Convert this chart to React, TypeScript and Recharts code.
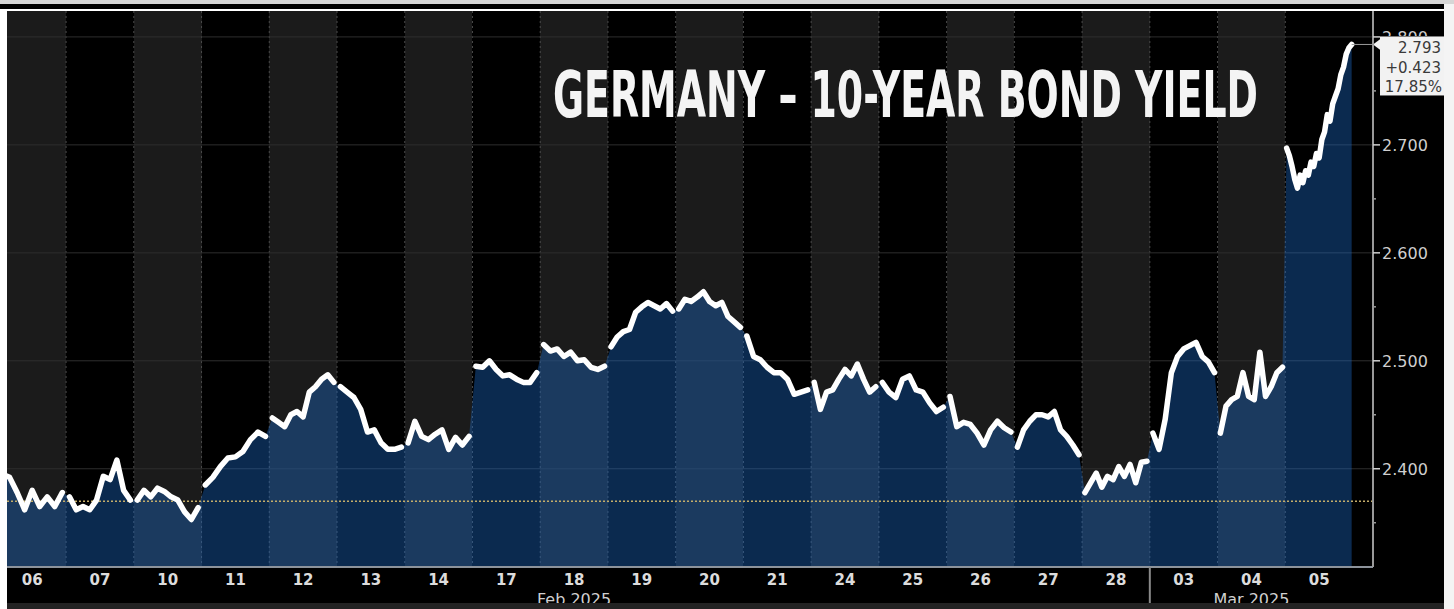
import React from 'react';
import { ComposedChart, Area, Line, XAxis, YAxis, CartesianGrid, ReferenceLine } from 'recharts';

// ---- data ----
const dayLabels = ['06', '07', '10', '11', '12', '13', '14', '17', '18', '19', '20', '21', '24', '25', '26', '27', '28', '03', '04', '05'];
const monthLabelDays = [8, 18]; // day index where month label is centred
const monthLabels = ['Feb 2025', 'Mar 2025'];
const monthStartDay = 17; // first day of March

const d06 = [2.395, 2.392, 2.378, 2.362, 2.38, 2.365, 2.374, 2.365, 2.378];
const d07 = [2.374, 2.362, 2.365, 2.362, 2.371, 2.393, 2.39, 2.408, 2.38, 2.371];
const d10 = [2.371, 2.38, 2.374, 2.382, 2.379, 2.374, 2.371, 2.36, 2.353, 2.364];
const d11 = [2.385, 2.392, 2.402, 2.41, 2.411, 2.416, 2.427, 2.434, 2.43];
const d12 = [2.447, 2.443, 2.439, 2.45, 2.453, 2.448, 2.471, 2.476, 2.483, 2.487, 2.48];
const d13 = [2.476, 2.471, 2.466, 2.455, 2.434, 2.436, 2.424, 2.418, 2.418, 2.42];
const d14 = [2.424, 2.444, 2.43, 2.427, 2.432, 2.436, 2.418, 2.429, 2.422, 2.43];
const d17 = [2.495, 2.494, 2.5, 2.492, 2.486, 2.487, 2.483, 2.48, 2.48, 2.489];
const d18 = [2.515, 2.509, 2.511, 2.504, 2.508, 2.5, 2.501, 2.494, 2.492, 2.495];
const d19 = [2.513, 2.522, 2.527, 2.529, 2.545, 2.55, 2.554, 2.551, 2.548, 2.553, 2.546];
const d20 = [2.548, 2.557, 2.555, 2.559, 2.564, 2.555, 2.551, 2.554, 2.541, 2.536, 2.531];
const d21 = [2.523, 2.504, 2.501, 2.494, 2.489, 2.489, 2.483, 2.469, 2.471, 2.473];
const d24 = [2.48, 2.455, 2.471, 2.473, 2.483, 2.492, 2.486, 2.497, 2.483, 2.471, 2.476];
const d25 = [2.48, 2.471, 2.466, 2.483, 2.486, 2.473, 2.471, 2.461, 2.453, 2.457];
const d26 = [2.467, 2.439, 2.443, 2.441, 2.433, 2.422, 2.436, 2.444, 2.438, 2.434];
const d27 = [2.42, 2.436, 2.444, 2.45, 2.45, 2.448, 2.453, 2.436, 2.43, 2.422, 2.413];
const d28 = [2.378, 2.387, 2.396, 2.383, 2.393, 2.39, 2.402, 2.393, 2.404, 2.387, 2.406, 2.407];
const d03 = [2.433, 2.418, 2.446, 2.489, 2.504, 2.511, 2.514, 2.517, 2.504, 2.499, 2.489];
const d04 = [2.433, 2.458, 2.464, 2.467, 2.489, 2.467, 2.464, 2.508, 2.467, 2.476, 2.489, 2.494];
const d05 = [2.697, 2.69, 2.68, 2.668, 2.66, 2.672, 2.665, 2.676, 2.672, 2.684, 2.68, 2.692, 2.688, 2.705, 2.712, 2.728, 2.722, 2.738, 2.745, 2.752, 2.765, 2.772, 2.784, 2.79, 2.793];

const intraday = [d06, d07, d10, d11, d12, d13, d14, d17, d18, d19, d20, d21, d24, d25, d26, d27, d28, d03, d04, d05];

const yTicks = [2.35, 2.4, 2.45, 2.5, 2.55, 2.6, 2.65, 2.7, 2.75, 2.8];
const majorTicks = [2.4, 2.5, 2.6, 2.7, 2.8];
const hiddenTick = 2.8; // mostly covered by the last-value box
const prevClose = 2.37;
const lastValue = '2.793';
const netChange = '+0.423';
const pctChange = '17.85%';
const title = 'GERMANY – 10-YEAR BOND YIELD';

const X_DOMAIN: [number, number] = [0.128, 20.295];
const Y_DOMAIN: [number, number] = [2.309, 2.824];

// ---- build table ----
type Row = { x: number; v: number | null };
const rows: Row[] = [];
intraday.forEach((vals, d) => {
  if (d > 0) rows.push({ x: d, v: null });
  vals.forEach((v, i) => rows.push({ x: d + (i + 0.5) / vals.length, v }));
});
const lastDay = intraday.length - 1;
const lastX = lastDay + (intraday[lastDay].length - 0.5) / intraday[lastDay].length;
const lastNum = intraday[lastDay][intraday[lastDay].length - 1];

const dayCenters = dayLabels.map((_, i) => i + 0.5);
const dayBounds = dayLabels.slice(1).map((_, i) => i + 1);
const monthTicks = [...monthLabelDays.map((d) => d + 0.5), monthStartDay].sort((a, b) => a - b);

const FONT = 'DejaVu Sans, Verdana, sans-serif';

const DayTick = (props: any) => {
  const { x, y, payload } = props;
  return (
    <text x={x} y={y + 18} textAnchor="middle" fill="#dcdcdc" fontSize={15} fontWeight="bold" fontFamily={FONT}>
      {dayLabels[Math.floor(payload.value)]}
    </text>
  );
};

const MonthTick = (props: any) => {
  const { x, y, payload } = props;
  if (payload.value === monthStartDay) {
    return <line x1={x} x2={x} y1={y - 22} y2={y + 14} stroke="#8a8a8a" strokeWidth={2} />;
  }
  const idx = monthLabelDays.indexOf(payload.value - 0.5);
  return (
    <text x={x} y={y + 16} textAnchor="middle" fill="#cfcfcf" fontSize={16} fontFamily={FONT}>
      {monthLabels[idx]}
    </text>
  );
};

const YTick = (props: any) => {
  const { x, y, payload } = props;
  const major = majorTicks.some((t) => Math.abs(t - payload.value) < 1e-6);
  if (!major) {
    return <line x1={x} x2={x + 3} y1={y} y2={y} stroke="#9a9a9a" strokeWidth={1.5} />;
  }
  const covered = Math.abs(payload.value - hiddenTick) < 1e-6;
  return (
    <g>
      {covered && (
        <defs>
          <clipPath id="topTickClip">
            <rect x={x} y={y - 12} width={80} height={11} />
          </clipPath>
        </defs>
      )}
      <line x1={x} x2={x + 7} y1={y} y2={y} stroke="#cfcfcf" strokeWidth={1.5} />
      <text
        x={x + 9}
        y={y + 6}
        fill="#cfcfcf"
        fontSize={16}
        fontFamily={FONT}
        clipPath={covered ? 'url(#topTickClip)' : undefined}
      >
        {payload.value.toFixed(3)}
      </text>
    </g>
  );
};

const ValueBox = (props: any) => {
  const vb = props.viewBox || {};
  const bx = (vb.x || 0) + (vb.width || 0);
  const by = vb.y || 0;
  return (
    <g>
      <path d={`M${bx},${by} L${bx + 8},${by - 6} L${bx + 8},${by + 6} Z`} fill="#f2f2f2" />
      <rect x={bx + 7} y={by - 8} width={64} height={59} fill="#f2f2f2" />
      <text x={bx + 68} y={by + 9} textAnchor="end" fill="#3a3a3a" fontSize={15} fontFamily={FONT}>{lastValue}</text>
      <text x={bx + 68} y={by + 28.5} textAnchor="end" fill="#3a3a3a" fontSize={15} fontFamily={FONT}>{netChange}</text>
      <text x={bx + 69} y={by + 48} textAnchor="end" fill="#3a3a3a" fontSize={15} fontFamily={FONT}>{pctChange}</text>
    </g>
  );
};

export default function App() {
  return (
    <div style={{ position: 'absolute', left: 0, top: 0, width: 1454, height: 609, background: '#ffffff', overflow: 'hidden' }}>
      {/* black panel behind chart */}
      <div style={{ position: 'absolute', left: 7, top: 11, width: 1437, height: 592, background: '#000' }} />
      <div style={{ position: 'absolute', left: 0, top: 0 }}>
        <ComposedChart width={1454} height={609} data={rows} margin={{ top: 11, right: 10, bottom: 0, left: 7 }}>
          <CartesianGrid
            xAxisId="day"
            horizontal={false}
            vertical={true}
            verticalValues={dayBounds}
            verticalFill={['#1b1b1b', '#000000']}
            stroke="#4a4a4a"
            strokeDasharray="2 3"
          />
          <CartesianGrid
            xAxisId="day"
            vertical={false}
            horizontal={true}
            horizontalValues={majorTicks}
            stroke="#2e2e2e"
          />
          <XAxis
            xAxisId="day"
            dataKey="x"
            type="number"
            domain={X_DOMAIN}
            allowDataOverflow
            ticks={dayCenters}
            interval={0}
            tick={<DayTick />}
            tickLine={false}
            tickSize={0}
            tickMargin={0}
            axisLine={{ stroke: '#8d939b', strokeWidth: 2 }}
            height={22}
          />
          <XAxis
            xAxisId="month"
            dataKey="x"
            type="number"
            domain={X_DOMAIN}
            allowDataOverflow
            ticks={monthTicks}
            interval={0}
            tick={<MonthTick />}
            tickLine={false}
            tickSize={0}
            tickMargin={0}
            axisLine={false}
            height={20}
          />
          <YAxis
            orientation="right"
            type="number"
            domain={Y_DOMAIN}
            allowDataOverflow
            ticks={yTicks}
            interval={0}
            tick={<YTick />}
            tickLine={false}
            tickSize={0}
            tickMargin={0}
            axisLine={{ stroke: '#9a9a9a', strokeWidth: 2 }}
            width={71}
          />
          <Area
            xAxisId="day"
            dataKey="v"
            type="linear"
            connectNulls
            stroke="none"
            fill="#1c6ccb"
            fillOpacity={0.39}
            isAnimationActive={false}
          />
          <ReferenceLine xAxisId="day" y={prevClose} stroke="#c4ad6a" strokeWidth={1.5} strokeDasharray="2 2" />
          <Line
            xAxisId="day"
            dataKey="v"
            type="linear"
            stroke="#ffffff"
            strokeWidth={5.5}
            strokeLinejoin="round"
            strokeLinecap="round"
            dot={false}
            isAnimationActive={false}
          />
          <ReferenceLine
            xAxisId="day"
            segment={[{ x: lastX, y: lastNum }, { x: X_DOMAIN[1], y: lastNum }]}
            stroke="#9a9a9a"
            strokeWidth={1}
            label={(p: any) => <ValueBox viewBox={p.viewBox} />}
          />
        </ComposedChart>
      </div>
      {/* title */}
      <svg width={1454} height={609} style={{ position: 'absolute', left: 0, top: 0, pointerEvents: 'none' }}>
        <text
          x={553}
          y={117}
          textLength={705}
          lengthAdjust="spacingAndGlyphs"
          fill="#f4f4f4"
          fontSize={64}
          fontWeight="bold"
          fontFamily="'DejaVu Sans Condensed', 'Liberation Sans Narrow', 'DejaVu Sans', sans-serif"
        >
          {title}
        </text>
      </svg>
      {/* frame decorations */}
      <div style={{ position: 'absolute', left: 0, top: 0, width: 1454, height: 4, background: '#d6d6d6' }} />
      <div style={{ position: 'absolute', left: 0, top: 4, width: 1444, height: 5, background: '#000' }} />
      <div style={{ position: 'absolute', left: 0, top: 9, width: 7, height: 600, background: '#fff' }} />
      <div style={{ position: 'absolute', left: 1444, top: 4, width: 10, height: 605, background: '#f4f4f4' }} />
      <div style={{ position: 'absolute', left: 7, top: 603, width: 1437, height: 6, background: '#232323' }} />
    </div>
  );
}
